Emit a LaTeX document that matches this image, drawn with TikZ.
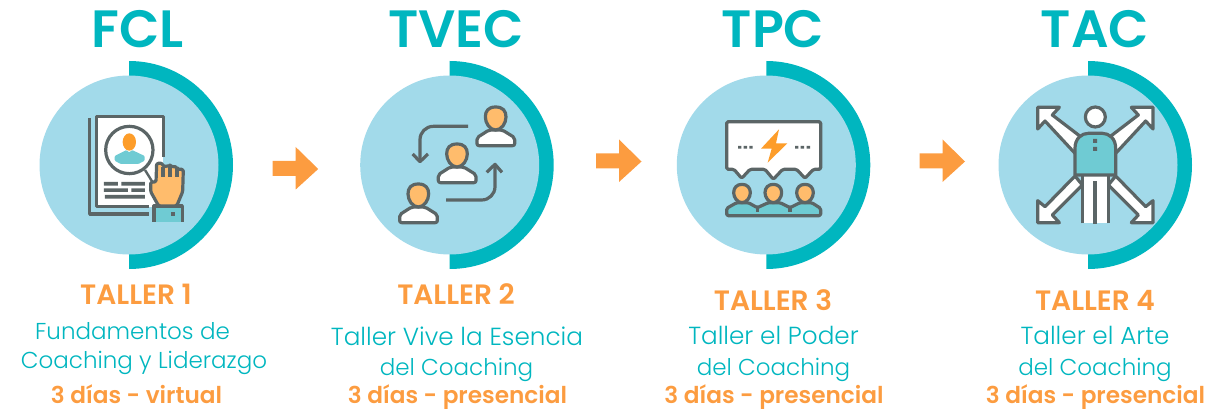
\documentclass[tikz,border=0pt]{standalone}
\usepackage{fontspec}
\setmainfont{Poppins}
\newfontfamily\boldf{Poppins}[UprightFont=* SemiBold]
\newfontfamily\lightf{Poppins}[UprightFont=* Light]
\definecolor{teal1}{HTML}{00B6BF}
\definecolor{lightc}{HTML}{A2DAEA}
\definecolor{orng}{HTML}{FC9C40}
\definecolor{headorng}{HTML}{FD9D2A}
\definecolor{skin}{HTML}{FFBC6C}
\definecolor{tealicon}{HTML}{6FCBD3}
\definecolor{gry}{HTML}{5B6566}
\tikzset{
  ttl/.style={font=\boldf\fontsize{52.5}{52.5}\selectfont,text=teal1,anchor=base,inner sep=0pt},
  tall/.style={font=\boldf\fontsize{28}{28}\selectfont,text=orng,anchor=base,inner sep=0pt},
  desc/.style={font=\lightf\fontsize{23}{23}\selectfont,text=teal1,anchor=base,inner sep=0pt},
  descw/.style={font=\lightf\fontsize{24.7}{24.7}\selectfont,text=teal1,anchor=base,inner sep=0pt},
  dur/.style={font=\boldf\fontsize{23.2}{23.2}\selectfont,text=orng,anchor=base,inner sep=0pt},
  ln/.style={draw=gry,line width=3.2pt,line join=round},
  blockarrow/.style={fill=orng},
  man/.pic={
    \draw[ln,fill=white,rounded corners=2pt] (-56,60) -- (-20,37) -- (20,37) -- (57,60) -- (57,84) -- (-56,84) -- cycle;
    \draw[ln,fill=skin] (0,-32) .. controls (22,-32) and (31,-20) .. (31,-2) .. controls (31,16) and (18,37) .. (0,37) .. controls (-18,37) and (-31,16) .. (-31,-2) .. controls (-31,-20) and (-22,-32) .. (0,-32) -- cycle;
  },
  crowd/.pic={
    \draw[ln,fill=skin] (0,-27) .. controls (15,-27) and (25,-17) .. (25,-2) .. controls (25,12) and (14,28) .. (0,28) .. controls (-14,28) and (-25,12) .. (-25,-2) .. controls (-25,-17) and (-15,-27) .. (0,-27) -- cycle;
  }
}
\newcommand{\badge}[1]{%
  \fill[teal1] (#1,61) arc[start angle=-90,end angle=90,radius=104] -- cycle;
  \fill[lightc] (#1,165) circle[radius=89.5];
}
\newcommand{\blockarr}[2]{%
  \fill[blockarrow] (#1,#2-7.5) -- ++(23,0) -- ++(0,-14) -- ++(22.5,22) -- ++(-22.5,20.5) -- ++(0,-13.5) -- ++(-23,0) -- cycle;
}
\begin{document}
\begin{tikzpicture}[x=1pt,y=-1pt]
\useasboundingbox (0,0) rectangle (1211,409);

\badge{129}\badge{449.7}\badge{766.3}\badge{1088}
\blockarr{272.7}{168.5}\blockarr{596}{161}\blockarr{919.5}{161}

\node[ttl] (t1) at (137.5,48) {FCL};
\node[ttl] (t2) at (456,48) {TVEC};
\node[ttl] (t3) at (773,48) {TPC};
\node[ttl] (t4) at (1095,48) {TAC};

\node[tall] (a1) at (136,304) {TALLER 1};
\node[desc] (b1) at (132.5,339) {Fundamentos de};
\node[desc] (c1) at (144,368) {Coaching y Liderazgo};
\node[dur]  (d1) at (136.5,403) {3 días - virtual};

\node[tall] (a2) at (456,304) {TALLER 2};
\node[descw] (b2) at (457,345) {Taller Vive la Esencia};
\node[desc] (c2) at (456.5,375) {del Coaching};
\node[dur]  (d2) at (457.5,403) {3 días - presencial};

\node[tall] (a3) at (773,310) {TALLER 3};
\node[descw] (b3) at (773.5,344) {Taller el Poder};
\node[desc] (c3) at (773.5,375) {del Coaching};
\node[dur]  (d3) at (774,403) {3 días - presencial};

\node[tall] (a4) at (1095,310) {TALLER 4};
\node[descw] (b4) at (1095,344) {Taller el Arte};
\node[desc] (c4) at (1095,375) {del Coaching};
\node[dur]  (d4) at (1095.5,403) {3 días - presencial};

% icon 1
\begin{scope}[shift={(30,50)},x=1/3*1pt,y=-1/3*1pt]
 \draw[ln] (179,205) -- (179,492) -- (358,492);
 \fill[white] (199,200) rectangle (400,470);
 \draw[ln] (400,320) -- (400,200) -- (199,200) -- (199,470) -- (358,470);
 \fill[gry] (222,396) rectangle (264,407) (274,396) rectangle (345,407)
            (222,415) rectangle (294,426) (304,415) rectangle (345,426)
            (225,435) rectangle (345,446);
 \fill[white] (346,362) -- (358,353) -- (385,385) -- (370,400) -- cycle;
 \draw[line width=2.4pt,gry] (345,360) -- (368,397);
 \draw[ln,fill=white] (298,300) circle[radius=71];
 \fill[tealicon,rounded corners=1pt] (254,318) -- (290,300) -- (298,308) -- (306,300) -- (344,318) -- (344,332) -- (325,342) -- (272,342) -- (254,332) -- cycle;
 \fill[headorng] (298,276) ellipse[x radius=20,y radius=26];
 \fill[tealicon] (372,468) rectangle (457,515);
 \draw[ln] (372,515) -- (372,468) -- (457,468) -- (457,515);
 \fill[gry] (423,486) rectangle (436,498);
 \draw[ln,fill=skin,rounded corners=1.5pt] (386,468) -- (362,425) -- (362,396) -- (378,396) -- (380,340) -- (398,340) -- (399,350) -- (420,347) -- (421,349) -- (441,351) -- (442,358) -- (460,358) -- (458,425) -- (440,468) -- cycle;
 \draw[ln] (399,350) -- (399,380) (420,349) -- (420,380) (441,355) -- (441,380);
\end{scope}

% icon 2
\begin{scope}[shift={(350,50)},x=1/3*1pt,y=-1/3*1pt]
 \pic at (437,203) {man};
 \pic at (321,314) {man};
 \pic at (205,434) {man};
 \draw[ln] (354,229) -- (250,229) arc[start angle=-90,end angle=-180,radius=40] -- (210,335);
 \draw[ln] (188,312) -- (210,335) -- (234,312);
 \draw[ln] (288,450) -- (395,450) arc[start angle=90,end angle=0,radius=40] -- (435,343);
 \draw[ln] (410,367) -- (435,343) -- (456,367);
\end{scope}

% icon 3
\begin{scope}[shift={(670,50)},x=1/3*1pt,y=-1/3*1pt]
 \draw[ln,fill=white,rounded corners=1.5pt] (170,215) -- (452,215) -- (452,358) -- (430,358) -- (405,385) -- (380,358) -- (338,358) -- (310,388) -- (285,358) -- (240,358) -- (215,385) -- (192,358) -- (170,358) -- cycle;
 \fill[gry] (204,288) rectangle +(10,8) (221,288) rectangle +(10,8) (238,288) rectangle +(10,8)
            (375,288) rectangle +(10,8) (392,288) rectangle +(10,8) (410,288) rectangle +(10,8);
 \fill[headorng] (327,238) -- (273,296) -- (305,296) -- (293,338) -- (352,280) -- (318,280) -- cycle;
 \draw[ln,fill=tealicon,rounded corners=1.5pt] (170,475) -- (200,458) -- (235,458) -- (262,473) -- (295,458) -- (330,458) -- (360,473) -- (390,458) -- (425,458) -- (452,475) -- (452,497) -- (170,497) -- cycle;
 \draw[ln] (262,473) -- (262,487) (360,473) -- (360,487);
 \pic at (216,430) {crowd};
 \pic at (310,430) {crowd};
 \pic at (405,430) {crowd};
\end{scope}

% icon 4
\begin{scope}[shift={(990,50)},x=1/3*1pt,y=-1/3*1pt]
 \draw[ln,fill=white] (208,172) -- (143,172) -- (143,237) -- (165,213) -- (255,310) -- (285,270) -- (187,195) -- cycle;
 \draw[ln,fill=white] (424,172) -- (489,172) -- (489,237) -- (467,213) -- (377,310) -- (347,270) -- (445,195) -- cycle;
 \draw[ln,fill=white] (143,452) -- (143,518) -- (208,518) -- (187,495) -- (277,405) -- (255,378) -- (165,470) -- cycle;
 \draw[ln,fill=white] (489,452) -- (489,518) -- (424,518) -- (445,495) -- (355,405) -- (377,378) -- (467,470) -- cycle;
 \fill[white] (277,375) rectangle (355,520);
 \draw[ln] (277,520) -- (277,375) (355,520) -- (355,375);
 \fill[gry] (309,393) rectangle (321,521);
 \draw[ln,fill=white] (316,201) circle[radius=30];
 \draw[ln,fill=tealicon] (255,375) -- (255,295) .. controls (255,265) and (275,250) .. (295,250) -- (337,250) .. controls (357,250) and (377,265) .. (377,295) -- (377,375) -- cycle;
 \fill[gry] (309,267) rectangle (321,279) (309,291) rectangle (321,303);
\end{scope}
\end{tikzpicture}
\end{document}
